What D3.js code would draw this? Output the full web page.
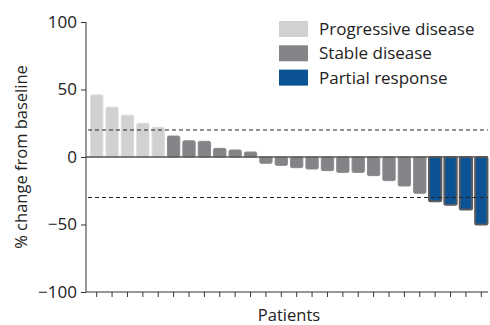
<!DOCTYPE html>
<html><head><meta charset="utf-8">
<script src="https://cdn.jsdelivr.net/npm/d3@7"></script>
<style>body{margin:0;background:#fff}svg{display:block}</style>
</head><body>
<script>
const progressive = [46, 37, 31, 25, 22];
const stable = [15.5, 12, 11.6, 6.4, 5.2, 3.7, -4.7, -6.2, -7.9, -8.9, -10.1, -11.4, -11.4, -13.8, -17.5, -21.5, -26.9];
const partial = [-32.8, -35.3, -38.8, -50];
const categories = ["Progressive disease", "Stable disease", "Partial response"];
const yTicks = [100, 50, 0, -50, -100];
const thresholds = [20, -30];

const data = [];
progressive.forEach(v => data.push({v, g: categories[0]}));
stable.forEach(v => data.push({v, g: categories[1]}));
partial.forEach(v => data.push({v, g: categories[2]}));
data.forEach((d, i) => d.id = i);

const W = 490, H = 325;
const font = "'Open Sans', sans-serif";
const svg = d3.select("body").append("svg").attr("width", W).attr("height", H)
  .style("font-family", font);

const x = d3.scaleBand().domain(data.map(d => d.id)).range([89, 489]).paddingInner(0.2).paddingOuter(0.1);
const y = d3.scaleLinear().domain([-100, 100]).range([292, 22]);
const color = d3.scaleOrdinal().domain(categories).range(["#d0d1d3", "#838487", "#0b5394"]);
const stroke = d3.scaleOrdinal().domain(categories).range(["#dcdddf", "#8a8b8e", "#5a5b5e"]);

// bars
svg.append("g").selectAll("rect").data(data).join("rect")
  .attr("x", d => x(d.id))
  .attr("width", x.bandwidth())
  .attr("y", d => y(Math.max(0, d.v)))
  .attr("height", d => Math.abs(y(d.v) - y(0)))
  .attr("rx", 1.5)
  .attr("fill", d => color(d.g))
  .attr("stroke", d => stroke(d.g))
  .attr("stroke-width", d => d.g === categories[2] ? 2 : 1);

// zero line
svg.append("line").attr("x1", 86).attr("x2", 488).attr("y1", y(0)).attr("y2", y(0))
  .attr("stroke", "#555").attr("stroke-width", 1.5);

// threshold lines
svg.append("g").selectAll("line").data(thresholds).join("line")
  .attr("x1", 88).attr("x2", 488).attr("y1", d => y(d)).attr("y2", d => y(d))
  .attr("stroke", "#222").attr("stroke-width", 1).attr("stroke-dasharray", "4,3");

// y axis
const ya = svg.append("g").attr("transform", "translate(86,0)")
  .call(d3.axisLeft(y).tickValues(yTicks).tickSize(5).tickPadding(4).tickFormat(d => d < 0 ? "\u2212" + Math.abs(d) : d));
ya.select(".domain").attr("stroke", "#333").attr("d", `M0,${y(100)}V${y(-100)}`);
ya.selectAll(".tick line").attr("stroke", "#333");
ya.selectAll("text").attr("font-size", 17).attr("font-family", font).attr("fill", "#222");

// x axis
const xa = svg.append("g").attr("transform", `translate(0,${y(-100)})`)
  .call(d3.axisBottom(x).tickSize(5).tickFormat(""));
xa.select(".domain").attr("stroke", "#333").attr("d", `M86,0H488`);
xa.selectAll(".tick line").attr("stroke", "#333");

// axis titles
svg.append("text").attr("transform", "translate(27,157) rotate(-90)")
  .attr("text-anchor", "middle").attr("font-size", 16.5).attr("fill", "#222")
  .text("% change from baseline");
svg.append("text").attr("x", 289).attr("y", 321)
  .attr("text-anchor", "middle").attr("font-size", 16.5).attr("fill", "#222")
  .text("Patients");

// legend
const lg = svg.append("g").selectAll("g").data(categories).join("g")
  .attr("transform", (d, i) => `translate(279,${21 + i * 24.3})`);
lg.append("rect").attr("width", 29).attr("height", 16).attr("fill", d => color(d));
lg.append("text").attr("x", 40).attr("y", 14).attr("font-size", 17).attr("fill", "#222").text(d => d);
</script>
</body></html>
